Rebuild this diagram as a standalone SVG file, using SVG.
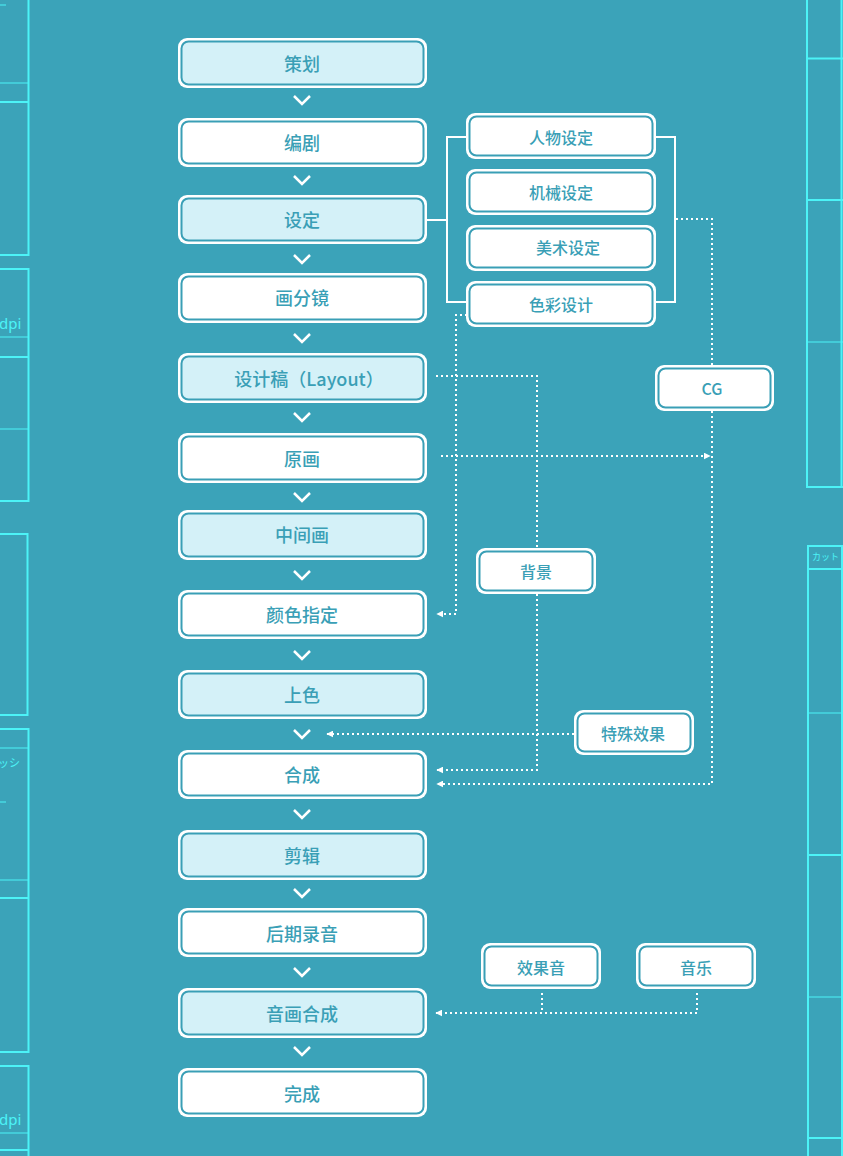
<svg xmlns="http://www.w3.org/2000/svg" width="843" height="1156" viewBox="0 0 843 1156">
<defs>
<style>
.bg{fill:#3ba3b9}
.deco{stroke:#4cf3f7;fill:none;stroke-width:2}
.decot{stroke:#4cf3f7;fill:none;stroke-width:1}
.decotxt{fill:#4cf3f7;font-family:"Noto Sans","Noto Sans CJK JP",sans-serif}
.outer{fill:#ffffff}
.inW{fill:#ffffff;stroke:#3a9fb6;stroke-width:2}
.inL{fill:#d4f1f8;stroke:#3a9fb6;stroke-width:2}
.t{fill:#3a9fb6;font-family:"Noto Sans CJK SC","Noto Sans",sans-serif;font-size:18px;font-weight:500;text-anchor:middle;dominant-baseline:central}
.ts{fill:#3a9fb6;font-family:"Noto Sans CJK SC","Noto Sans",sans-serif;font-size:16px;font-weight:500;text-anchor:middle;dominant-baseline:central}
.chev{fill:none;stroke:#ffffff;stroke-width:2.5}
.solid{fill:none;stroke:#ffffff;stroke-width:2}
.dot{fill:none;stroke:#ffffff;stroke-width:2;stroke-dasharray:2 3}
</style>
<marker id="ah" viewBox="0 0 10 10" refX="9" refY="5" markerWidth="7" markerHeight="7" markerUnits="userSpaceOnUse" orient="auto">
<path d="M0,0 L10,5 L0,10 z" fill="#ffffff"/>
</marker>
</defs>
<rect class="bg" x="0" y="0" width="843" height="1156"/>

<g id="decoration">
<path class="decot" d="M0,5 H6"/>
<path class="deco" d="M0,255 H28.5 V-2"/>
<path class="decot" d="M0,83 H28"/>
<path class="deco" d="M0,102 H28"/>
<path class="deco" d="M0,269 H28.5 V501 H0"/>
<path class="decot" d="M0,337 H28"/>
<path class="deco" d="M0,357 H28"/>
<path class="decot" d="M0,429 H28"/>
<text class="decotxt" x="-1" y="329" font-size="15">dpi</text>
<path class="deco" d="M0,534 H27.5 V715 H0"/>
<path class="deco" d="M0,729 H28.5 V1052 H0"/>
<path class="decot" d="M0,748 H28"/>
<text class="decotxt" x="-2" y="767" font-size="11">ッシ</text>
<path class="decot" d="M0,802 H6"/>
<path class="decot" d="M0,880 H28"/>
<path class="deco" d="M0,898 H28"/>
<path class="deco" d="M0,1066 H28.5 V1158"/>
<text class="decotxt" x="-1" y="1125" font-size="15">dpi</text>
<path class="decot" d="M0,1133 H28"/>
<path class="deco" d="M0,1150 H28"/>
<path class="deco" d="M807,-2 V487 H843"/>
<path class="deco" d="M841.5,-2 V487"/>
<path class="deco" d="M807,58.5 H843"/>
<path class="deco" d="M807,200 H843"/>
<path class="decot" d="M807,342 H843"/>
<path class="deco" d="M808,1158 V546 H843"/>
<path class="deco" d="M842,546 V1158"/>
<text class="decotxt" x="812" y="560" font-size="9">カット</text>
<path class="deco" d="M808,569 H843"/>
<path class="decot" d="M808,713 H843"/>
<path class="deco" d="M808,855 H843"/>
<path class="decot" d="M808,997 H843"/>
<path class="deco" d="M808,1138 H843"/>
</g>

<g id="connectors">
<polyline class="chev" points="294,96 302,104 310,96"/>
<polyline class="chev" points="294,176 302,184 310,176"/>
<polyline class="chev" points="294,255 302,263 310,255"/>
<polyline class="chev" points="294,334 302,342 310,334"/>
<polyline class="chev" points="294,413 302,421 310,413"/>
<polyline class="chev" points="294,493 302,501 310,493"/>
<polyline class="chev" points="294,571 302,579 310,571"/>
<polyline class="chev" points="294,651 302,659 310,651"/>
<polyline class="chev" points="294,730 302,738 310,730"/>
<polyline class="chev" points="294,810 302,818 310,810"/>
<polyline class="chev" points="294,889 302,897 310,889"/>
<polyline class="chev" points="294,968 302,976 310,968"/>
<polyline class="chev" points="294,1047 302,1055 310,1047"/>
<path class="solid" d="M427,220 H447"/>
<path class="solid" d="M467,137 H447 V302 H467"/>
<path class="solid" d="M655,137 H675 V302 H655"/>
<path class="dot" d="M676,219 H712 V366"/>
<path class="dot" d="M712,411 V784 H437" marker-end="url(#ah)"/>
<path class="dot" d="M467,315 H456 V614 H437" marker-end="url(#ah)"/>
<path class="dot" d="M436,376 H537 V548"/>
<path class="dot" d="M537,594 V770 H437" marker-end="url(#ah)"/>
<path class="dot" d="M441,456 H710" marker-end="url(#ah)"/>
<path class="dot" d="M574,734 H327" marker-end="url(#ah)"/>
<path class="dot" d="M542,993 V1013"/>
<path class="dot" d="M697,993 V1013 H436" marker-end="url(#ah)"/>
</g>

<g id="n1"><rect class="outer" x="178" y="38" width="249" height="50" rx="9"/><rect class="inL" x="181.5" y="41.5" width="242" height="43" rx="7"/><text class="t" x="302" y="63">策划</text></g>
<g id="n2"><rect class="outer" x="178" y="118" width="249" height="49" rx="9"/><rect class="inW" x="181.5" y="121.5" width="242" height="42" rx="7"/><text class="t" x="302" y="142">编剧</text></g>
<g id="n3"><rect class="outer" x="178" y="195" width="249" height="49" rx="9"/><rect class="inL" x="181.5" y="198.5" width="242" height="42" rx="7"/><text class="t" x="302" y="219">设定</text></g>
<g id="n4"><rect class="outer" x="178" y="273" width="249" height="50" rx="9"/><rect class="inW" x="181.5" y="276.5" width="242" height="43" rx="7"/><text class="t" x="302" y="297">画分镜</text></g>
<g id="n5"><rect class="outer" x="178" y="353" width="249" height="50" rx="9"/><rect class="inL" x="181.5" y="356.5" width="242" height="43" rx="7"/><text class="t" x="309" y="378">设计稿（Layout）</text></g>
<g id="n6"><rect class="outer" x="178" y="433" width="249" height="50" rx="9"/><rect class="inW" x="181.5" y="436.5" width="242" height="43" rx="7"/><text class="t" x="302" y="458">原画</text></g>
<g id="n7"><rect class="outer" x="178" y="510" width="249" height="50" rx="9"/><rect class="inL" x="181.5" y="513.5" width="242" height="43" rx="7"/><text class="t" x="302" y="534">中间画</text></g>
<g id="n8"><rect class="outer" x="178" y="590" width="249" height="49" rx="9"/><rect class="inW" x="181.5" y="593.5" width="242" height="42" rx="7"/><text class="t" x="302" y="614">颜色指定</text></g>
<g id="n9"><rect class="outer" x="178" y="670" width="249" height="49" rx="9"/><rect class="inL" x="181.5" y="673.5" width="242" height="42" rx="7"/><text class="t" x="302" y="694">上色</text></g>
<g id="n10"><rect class="outer" x="178" y="750" width="249" height="49" rx="9"/><rect class="inW" x="181.5" y="753.5" width="242" height="42" rx="7"/><text class="t" x="302" y="774">合成</text></g>
<g id="n11"><rect class="outer" x="178" y="830" width="249" height="50" rx="9"/><rect class="inL" x="181.5" y="833.5" width="242" height="43" rx="7"/><text class="t" x="302" y="855">剪辑</text></g>
<g id="n12"><rect class="outer" x="178" y="908" width="249" height="49" rx="9"/><rect class="inW" x="181.5" y="911.5" width="242" height="42" rx="7"/><text class="t" x="302" y="933">后期录音</text></g>
<g id="n13"><rect class="outer" x="178" y="988" width="249" height="50" rx="9"/><rect class="inL" x="181.5" y="991.5" width="242" height="43" rx="7"/><text class="t" x="302" y="1013">音画合成</text></g>
<g id="n14"><rect class="outer" x="178" y="1068" width="249" height="49" rx="9"/><rect class="inW" x="181.5" y="1071.5" width="242" height="42" rx="7"/><text class="t" x="302" y="1093">完成</text></g>

<g id="s1"><rect class="outer" x="466" y="113" width="190" height="46" rx="9"/><rect class="inW" x="469.5" y="116.5" width="183" height="39" rx="7"/><text class="ts" x="561" y="137">人物设定</text></g>
<g id="s2"><rect class="outer" x="466" y="169" width="190" height="46" rx="9"/><rect class="inW" x="469.5" y="172.5" width="183" height="39" rx="7"/><text class="ts" x="561" y="192">机械设定</text></g>
<g id="s3"><rect class="outer" x="466" y="225" width="190" height="46" rx="9"/><rect class="inW" x="469.5" y="228.5" width="183" height="39" rx="7"/><text class="ts" x="568" y="247">美术设定</text></g>
<g id="s4"><rect class="outer" x="466" y="281" width="190" height="46" rx="9"/><rect class="inW" x="469.5" y="284.5" width="183" height="39" rx="7"/><text class="ts" x="561" y="304">色彩设计</text></g>
<g id="cg"><rect class="outer" x="655" y="365" width="119" height="46" rx="9"/><rect class="inW" x="658.5" y="368.5" width="112" height="39" rx="7"/><text class="ts" x="712" y="388">CG</text></g>
<g id="bg-node"><rect class="outer" x="476" y="548" width="120" height="46" rx="9"/><rect class="inW" x="479.5" y="551.5" width="113" height="39" rx="7"/><text class="ts" x="536" y="571">背景</text></g>
<g id="fx"><rect class="outer" x="574" y="710" width="120" height="45" rx="9"/><rect class="inW" x="577.5" y="713.5" width="113" height="38" rx="7"/><text class="ts" x="633" y="733">特殊效果</text></g>
<g id="se"><rect class="outer" x="481" y="943" width="120" height="46" rx="9"/><rect class="inW" x="484.5" y="946.5" width="113" height="39" rx="7"/><text class="ts" x="541" y="967">效果音</text></g>
<g id="music"><rect class="outer" x="636" y="943" width="120" height="46" rx="9"/><rect class="inW" x="639.5" y="946.5" width="113" height="39" rx="7"/><text class="ts" x="696" y="967">音乐</text></g>
</svg>
